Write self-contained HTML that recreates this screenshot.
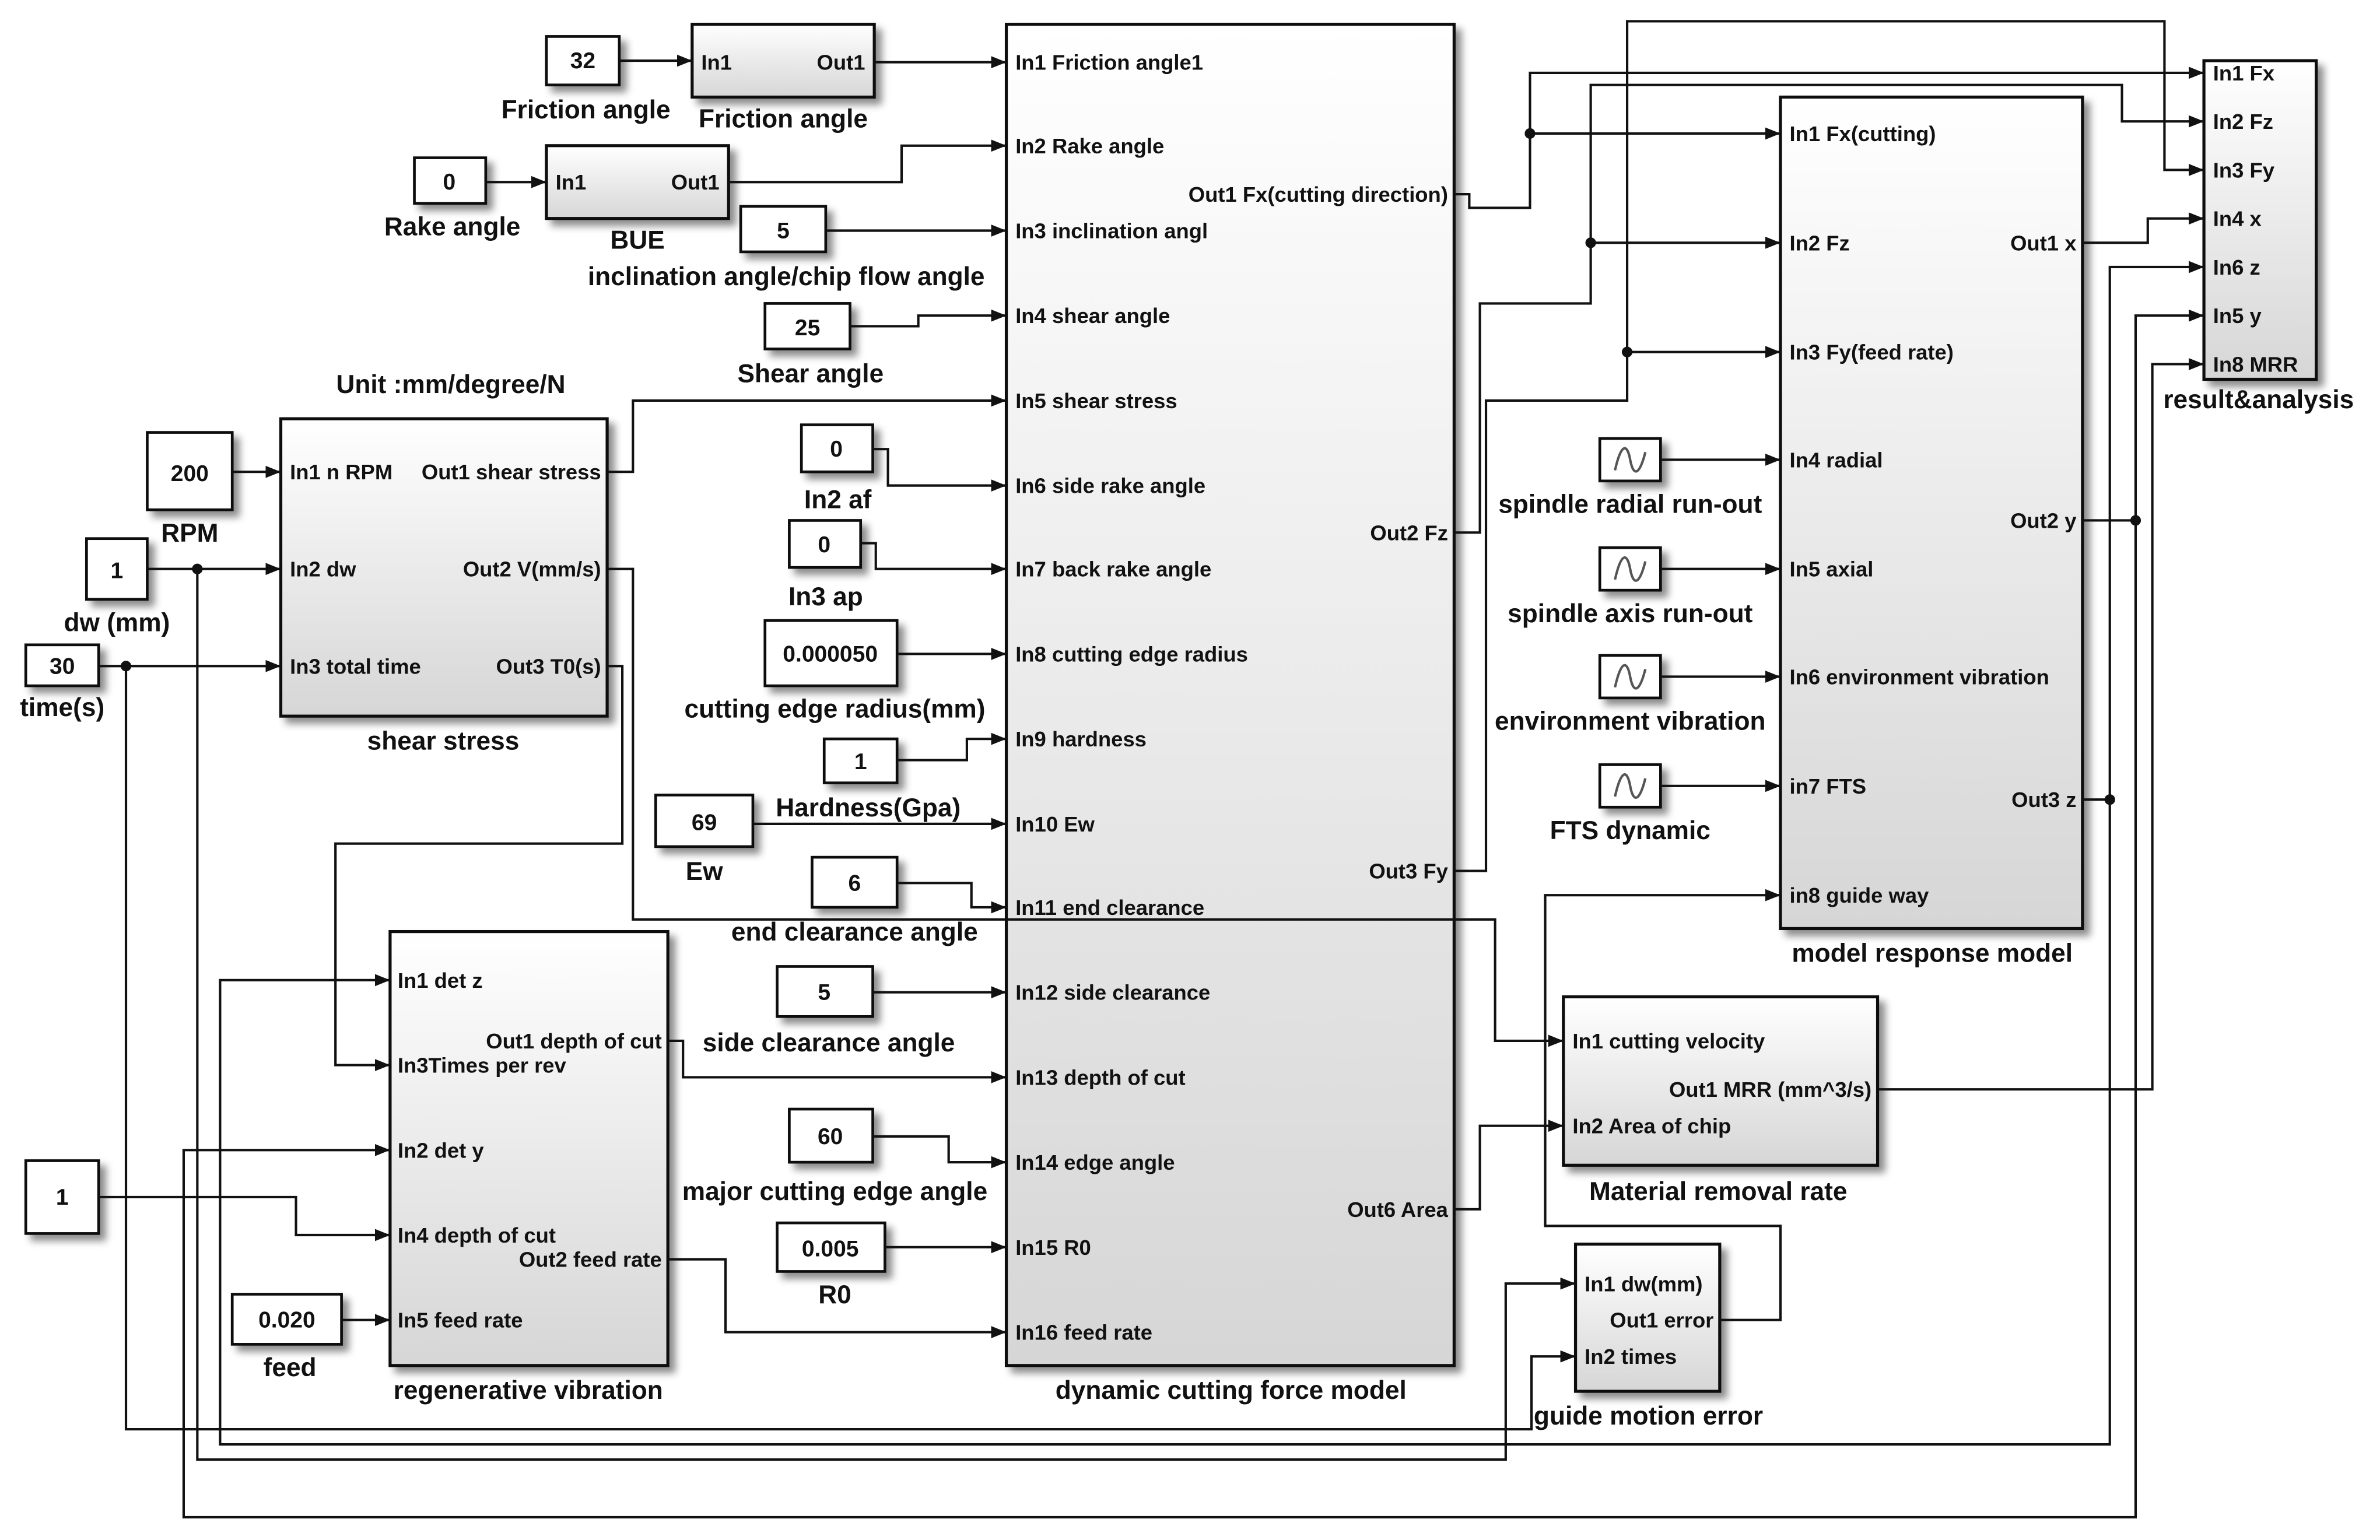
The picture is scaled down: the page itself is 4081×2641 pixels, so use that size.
<!DOCTYPE html>
<html><head><meta charset="utf-8">
<style>
html,body{margin:0;padding:0;background:#fff;}
svg{display:block;}
text{font-family:"Liberation Sans",Arial,sans-serif;font-weight:bold;fill:#111;}
.p{font-size:14px;}
.l{font-size:17px;}
.c{font-size:15px;fill:#555;}
.w{fill:none;stroke:#111;stroke-width:1.6;}
</style></head>
<body>
<svg width="4081" height="2641" viewBox="0 0 1568 1015" preserveAspectRatio="none" xmlns="http://www.w3.org/2000/svg">
<defs>
<linearGradient id="g" x1="0" y1="0" x2="0" y2="1"><stop offset="0" stop-color="#ffffff"/><stop offset="1" stop-color="#d6d6d6"/></linearGradient>
<filter id="s" x="-10%" y="-10%" width="130%" height="130%"><feDropShadow dx="4" dy="4" stdDeviation="2.5" flood-color="#000" flood-opacity="0.45"/></filter>
<marker id="a" markerWidth="10" markerHeight="8" refX="10" refY="4" orient="auto" markerUnits="userSpaceOnUse"><path d="M0,0 L10,4 L0,8z" fill="#111"/></marker>
</defs>

<!-- Blocks -->
<g stroke="#111" stroke-width="2" filter="url(#s)">
<rect x="663" y="16" width="295" height="884" fill="url(#g)"/>
<rect x="456" y="16" width="120" height="48" fill="url(#g)"/>
<rect x="360" y="96" width="120" height="48" fill="url(#g)"/>
<rect x="185" y="276" width="215" height="196" fill="url(#g)"/>
<rect x="257" y="614" width="183" height="286" fill="url(#g)"/>
<rect x="1173" y="64" width="199" height="548" fill="url(#g)"/>
<rect x="1452" y="40" width="74" height="210" fill="url(#g)"/>
<rect x="1030" y="657" width="207" height="111" fill="url(#g)"/>
<rect x="1038" y="820" width="95" height="97" fill="url(#g)"/>
</g>
<!-- constants -->
<g stroke="#111" stroke-width="1.8" fill="#fff" filter="url(#s)">
<rect x="360" y="24" width="48" height="32"/>
<rect x="273" y="104" width="47" height="30"/>
<rect x="488" y="136" width="56" height="30"/>
<rect x="504" y="200" width="56" height="30"/>
<rect x="97" y="285" width="56" height="51"/>
<rect x="57" y="355" width="40" height="40"/>
<rect x="17" y="425" width="48" height="27"/>
<rect x="528" y="280" width="47" height="31"/>
<rect x="520" y="343" width="47" height="31"/>
<rect x="504" y="409" width="87" height="43"/>
<rect x="543" y="487" width="48" height="29"/>
<rect x="432" y="524" width="64" height="34"/>
<rect x="535" y="565" width="56" height="33"/>
<rect x="512" y="637" width="63" height="33"/>
<rect x="520" y="731" width="55" height="35"/>
<rect x="512" y="806" width="71" height="32"/>
<rect x="17" y="765" width="48" height="48"/>
<rect x="153" y="853" width="72" height="33"/>
<rect x="1054" y="289" width="40" height="28"/>
<rect x="1054" y="361" width="40" height="28"/>
<rect x="1054" y="432" width="40" height="28"/>
<rect x="1054" y="504" width="40" height="28"/>
</g>
<!-- sine glyphs -->
<g fill="none" stroke="#555" stroke-width="1.6">
<path d="M1064,310 C1068,292 1072,292 1074,303 C1076,314 1080,314 1084,298"/>
<path d="M1064,382 C1068,364 1072,364 1074,375 C1076,386 1080,386 1084,370"/>
<path d="M1064,453 C1068,435 1072,435 1074,446 C1076,457 1080,457 1084,441"/>
<path d="M1064,525 C1068,507 1072,507 1074,518 C1076,529 1080,529 1084,513"/>
</g>
<!-- constant values -->
<g class="c" text-anchor="middle">
<text x="384" y="45">32</text>
<text x="296" y="125">0</text>
<text x="516" y="157">5</text>
<text x="532" y="221">25</text>
<text x="125" y="317">200</text>
<text x="77" y="381">1</text>
<text x="41" y="444">30</text>
<text x="551" y="301">0</text>
<text x="543" y="364">0</text>
<text x="547" y="436">0.000050</text>
<text x="567" y="507">1</text>
<text x="464" y="547">69</text>
<text x="563" y="587">6</text>
<text x="543" y="659">5</text>
<text x="547" y="754">60</text>
<text x="547" y="828">0.005</text>
<text x="41" y="794">1</text>
<text x="189" y="875">0.020</text>
</g>

<!-- Wires -->
<g class="w" marker-end="url(#a)">
<polyline points="408,40 456,40"/>
<polyline points="576,41 663,41"/>
<polyline points="320,120 360,120"/>
<polyline points="480,120 594,120 594,96 663,96"/>
<polyline points="544,152 663,152"/>
<polyline points="560,215 605,215 605,208 663,208"/>
<polyline points="400,311 417,311 417,264 663,264"/>
<polyline points="575,296 585,296 585,320 663,320"/>
<polyline points="567,358 577,358 577,375 663,375"/>
<polyline points="591,431 663,431"/>
<polyline points="591,501 637,501 637,487 663,487"/>
<polyline points="496,543 663,543"/>
<polyline points="591,582 640,582 640,598 663,598"/>
<polyline points="400,375 417,375 417,606 985,606 985,686 1030,686"/>
<polyline points="400,439 410,439 410,556 221,556 221,702 257,702"/>
<polyline points="575,654 663,654"/>
<polyline points="440,686 450,686 450,710 663,710"/>
<polyline points="575,749 625,749 625,766 663,766"/>
<polyline points="583,822 663,822"/>
<polyline points="440,830 478,830 478,878 663,878"/>
<polyline points="225,870 257,870"/>
<polyline points="65,789 195,789 195,814 257,814"/>
<polyline points="153,311 185,311"/>
<polyline points="97,375 185,375"/>
<polyline points="130,375 130,962 992,962 992,846 1038,846"/>
<polyline points="65,439 185,439"/>
<polyline points="83,439 83,942 1009,942 1009,894 1038,894"/>
<polyline points="1390,527 1390,952 145,952 145,646 257,646"/>
<polyline points="1407,343 1407,1000 121,1000 121,758 257,758"/>
<polyline points="1372,527 1390,527 1390,176 1452,176"/>
<polyline points="1372,343 1407,343 1407,208 1452,208"/>
<polyline points="1372,160 1415,160 1415,144 1452,144"/>
<polyline points="958,128 968,128 968,137 1008,137 1008,88 1173,88"/>
<polyline points="1008,88 1008,48 1452,48"/>
<polyline points="958,351 975,351 975,200 1048,200 1048,160 1173,160"/>
<polyline points="1048,160 1048,56 1398,56 1398,80 1452,80"/>
<polyline points="958,574 979,574 979,264 1072,264 1072,232 1173,232"/>
<polyline points="1072,232 1072,14 1426,14 1426,112 1452,112"/>
<polyline points="958,797 975,797 975,742 1030,742"/>
<polyline points="1237,718 1418,718 1418,240 1452,240"/>
<polyline points="1133,870 1173,870 1173,808 1018,808 1018,590 1173,590"/>
<polyline points="1094,303 1173,303"/>
<polyline points="1094,375 1173,375"/>
<polyline points="1094,446 1173,446"/>
<polyline points="1094,518 1173,518"/>
</g>
<!-- junction dots -->
<g fill="#111">
<circle cx="130" cy="375" r="3.5"/><circle cx="83" cy="439" r="3.5"/>
<circle cx="1390" cy="527" r="3.5"/><circle cx="1407" cy="343" r="3.5"/>
<circle cx="1008" cy="88" r="3.5"/><circle cx="1048" cy="160" r="3.5"/>
<circle cx="1072" cy="232" r="3.5"/>
</g>

<!-- Port labels -->
<g class="p">
<text x="669" y="46">In1 Friction angle1</text>
<text x="669" y="101">In2 Rake angle</text>
<text x="669" y="157">In3 inclination angl</text>
<text x="669" y="213">In4 shear angle</text>
<text x="669" y="269">In5 shear stress</text>
<text x="669" y="325">In6 side rake angle</text>
<text x="669" y="380">In7 back rake angle</text>
<text x="669" y="436">In8 cutting edge radius</text>
<text x="669" y="492">In9 hardness</text>
<text x="669" y="548">In10 Ew</text>
<text x="669" y="603">In11  end clearance</text>
<text x="669" y="659">In12 side clearance</text>
<text x="669" y="715">In13 depth of cut</text>
<text x="669" y="771">In14 edge angle</text>
<text x="669" y="827">In15  R0</text>
<text x="669" y="883">In16 feed rate</text>
<g text-anchor="end">
<text x="954" y="133">Out1 Fx(cutting direction)</text>
<text x="954" y="356">Out2 Fz</text>
<text x="954" y="579">Out3 Fy</text>
<text x="954" y="802">Out6 Area</text>
<text x="570" y="46">Out1</text>
<text x="474" y="125">Out1</text>
<text x="396" y="316">Out1 shear stress</text>
<text x="396" y="380">Out2 V(mm/s)</text>
<text x="396" y="444">Out3 T0(s)</text>
<text x="436" y="691">Out1 depth of cut</text>
<text x="436" y="835">Out2 feed rate</text>
<text x="1368" y="165">Out1 x</text>
<text x="1368" y="348">Out2 y</text>
<text x="1368" y="532">Out3 z</text>
<text x="1233" y="723">Out1 MRR (mm^3/s)</text>
<text x="1129" y="875">Out1 error</text>
</g>
<text x="462" y="46">In1</text>
<text x="366" y="125">In1</text>
<text x="191" y="316">In1 n RPM</text>
<text x="191" y="380">In2 dw</text>
<text x="191" y="444">In3 total time</text>
<text x="262" y="651">In1 det z</text>
<text x="262" y="707">In3Times per rev</text>
<text x="262" y="763">In2 det y</text>
<text x="262" y="819">In4 depth of cut</text>
<text x="262" y="875">In5 feed rate</text>
<text x="1179" y="93">In1 Fx(cutting)</text>
<text x="1179" y="165">In2 Fz</text>
<text x="1179" y="237">In3 Fy(feed rate)</text>
<text x="1179" y="308">In4 radial</text>
<text x="1179" y="380">In5 axial</text>
<text x="1179" y="451">In6 environment vibration</text>
<text x="1179" y="523">in7 FTS</text>
<text x="1179" y="595">in8 guide way</text>
<text x="1458" y="53">In1 Fx</text>
<text x="1458" y="85">In2 Fz</text>
<text x="1458" y="117">In3 Fy</text>
<text x="1458" y="149">In4 x</text>
<text x="1458" y="181">In6 z</text>
<text x="1458" y="213">In5 y</text>
<text x="1458" y="245">In8 MRR</text>
<text x="1036" y="691">In1 cutting velocity</text>
<text x="1036" y="747">In2 Area of chip</text>
<text x="1044" y="851">In1 dw(mm)</text>
<text x="1044" y="899">In2 times</text>
</g>

<!-- Block labels -->
<g class="l" text-anchor="middle">
<text x="386" y="78">Friction angle</text>
<text x="516" y="84">Friction angle</text>
<text x="298" y="155">Rake angle</text>
<text x="420" y="164">BUE</text>
<text x="518" y="188">inclination angle/chip flow angle</text>
<text x="534" y="252">Shear angle</text>
<text x="297" y="259">Unit :mm/degree/N</text>
<text x="125" y="357">RPM</text>
<text x="77" y="416">dw (mm)</text>
<text x="41" y="472">time(s)</text>
<text x="292" y="494">shear stress</text>
<text x="552" y="335">In2 af</text>
<text x="544" y="399">In3 ap</text>
<text x="550" y="473">cutting edge radius(mm)</text>
<text x="572" y="538">Hardness(Gpa)</text>
<text x="464" y="580">Ew</text>
<text x="563" y="620">end clearance angle</text>
<text x="546" y="693">side clearance angle</text>
<text x="550" y="791">major cutting  edge angle</text>
<text x="550" y="859">R0</text>
<text x="191" y="907">feed</text>
<text x="348" y="922">regenerative vibration</text>
<text x="811" y="922">dynamic cutting force model</text>
<text x="1074" y="338">spindle radial run-out</text>
<text x="1074" y="410">spindle axis run-out</text>
<text x="1074" y="481">environment vibration</text>
<text x="1074" y="553">FTS dynamic</text>
<text x="1273" y="634">model response model</text>
<text x="1488" y="269">result&amp;analysis</text>
<text x="1132" y="791">Material  removal rate</text>
<text x="1086" y="939">guide motion error</text>
</g>
</svg>
</body></html>
